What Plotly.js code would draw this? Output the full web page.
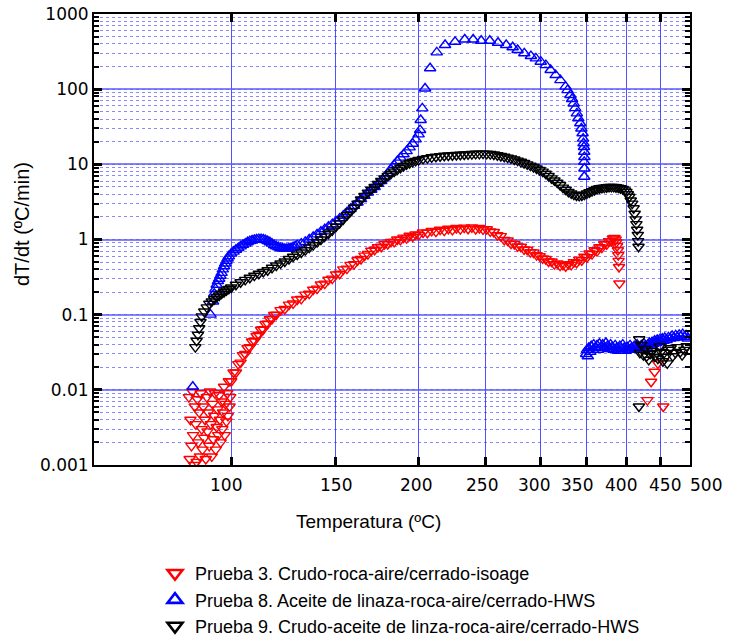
<!DOCTYPE html>
<html>
<head>
<meta charset="utf-8">
<script src="https://cdn.plot.ly/plotly-3.0.1.min.js"></script>
<style>html,body{margin:0;padding:0;background:#fff;}#chart{width:729px;height:636px;}</style>
</head>
<body>
<div id="chart"></div>
<script>
// ---- Prueba 3 (red) ----
const tempP3 = [83,83.3,83.6,84,84.3,84.6,85,85.3,85.6,86,86.3,86.6,87,87.3,87.6,88,88.3,88.6,89,89.3,89.6,90,90.3,90.6,91,91.3,91.6,92,92.3,92.6,93,93.3,93.6,94,94.3,94.6,95,95.3,95.6,96,96.3,96.6,97,97.3,97.6,98,98.3,98.6,99,99.3,99.6,
100,101,102,103,104,105,106,107,108,109,110,111,112,113,114,115,116,117,118,119,120,122,124,126,128,130,132,134,136,138,140,142,144,146,148,150,152,154,156,158,160,162,164,166,168,170,172,174,176,178,180,182,184,186,188,190,192,194,196,198,200,203,206,209,212,215,218,221,224,227,230,233,236,239,242,245,248,251,254,257,260,263,266,269,272,275,278,281,284,287,290,293,296,299,302,305,308,311,314,317,320,323,326,329,332,335,338,341,344,347,350,353,356,359,362,365,368,371,374,377,380,382,384,385.5,386.5,387.5,388.5,389,389.5,390,390.5,
430,435.6,441,446,454.5];
const valP3 = [0.008,0.0012,0.004,0.0018,0.0095,0.0025,0.001,0.006,0.0035,0.0011,0.0075,0.002,0.005,0.0013,0.009,0.003,0.0016,0.006,0.0023,0.004,0.0012,0.008,0.0028,0.005,0.0018,0.0095,0.0035,0.0013,0.0065,0.0022,0.0045,0.009,0.0016,0.0032,0.0055,0.0025,0.0085,0.004,0.002,0.007,0.003,0.005,0.011,0.0025,0.0065,0.0038,0.009,0.0045,0.013,0.006,0.008,
0.013,0.017,0.017,0.022,0.023,0.029,0.03,0.036,0.037,0.044,0.045,0.052,0.054,0.063,0.064,0.075,0.076,0.087,0.088,0.099,0.1,0.115,0.119,0.136,0.141,0.159,0.162,0.185,0.19,0.215,0.222,0.252,0.259,0.292,0.302,0.343,0.35,0.4,0.41,0.46,0.47,0.53,0.55,0.61,0.64,0.71,0.73,0.79,0.8,0.87,0.87,0.93,0.93,1.0,0.99,1.06,1.04,1.12,1.09,1.17,1.15,1.24,1.23,1.3,1.27,1.35,1.31,1.39,1.34,1.42,1.37,1.44,1.39,1.45,1.38,1.42,1.36,1.37,1.28,1.26,1.14,1.11,0.99,0.97,0.88,0.87,0.81,0.8,0.74,0.73,0.68,0.67,0.62,0.6,0.56,0.55,0.51,0.51,0.47,0.48,0.45,0.46,0.44,0.47,0.46,0.5,0.49,0.54,0.53,0.59,0.58,0.65,0.64,0.72,0.7,0.79,0.78,0.87,0.86,0.95,0.95,1.03,1.05,1.0,0.92,0.82,0.72,0.62,0.52,0.43,0.26,
0.0073,0.0128,0.0174,0.0225,0.006];

// ---- Prueba 8 (blue) ----
const tempP8 = [84.5,91.5,92.5,93,93.5,94,94.5,95,95.5,96,96.5,97,97.5,98,98.5,99,100,101,102,103,104,105,106,107,108,109,110,111,112,113,114,115,116,117,118,119,120,121,122,123,124,125,126,127,128,129,130,132,134,136,138,140,142,144,146,148,150,152,154,156,158,160,162,164,166,168,170,172,174,176,178,180,182,184,186,188,190,192,194,196,198,200,201,
201.4,202.5,204.4,207.9,212.6,218.6,226,233.4,240,246.5,253.6,260.6,267.7,273.5,278,284.2,290.5,295.3,300.1,305.2,310.1,315.3,320.3,325.8,328,331.2,333,334.8,336.5,338.4,340,342.2,343.5,344.9,345.5,346,346.5,346.8,347,346.8,347,346.8,
349,350,351,352,354,355,357,358,360,362,363,365,367,369,371,373,375,377,379,381,383,385,387,389,391,393,395,397,399,401,403,405,407,409,411,413,415,417,419,421,423,425,427,429,431,433,435,437,439,441,443,445,447,449,451,453,455,457,460,463,466,469,472,475,478,481,484,487,490,493,496];
const valP8 = [0.011,0.1,0.15,0.19,0.22,0.25,0.28,0.3,0.33,0.36,0.4,0.44,0.48,0.52,0.56,0.6,0.65,0.69,0.73,0.77,0.81,0.85,0.88,0.92,0.95,0.97,0.99,1.0,1.01,1.01,1.0,0.98,0.95,0.92,0.88,0.84,0.81,0.79,0.77,0.76,0.75,0.75,0.76,0.77,0.79,0.81,0.84,0.88,0.93,1.0,1.08,1.17,1.27,1.37,1.48,1.6,1.74,1.9,2.07,2.3,2.55,2.8,3.1,3.45,3.8,4.2,4.6,5.0,5.5,6.0,6.7,7.6,8.6,9.8,11,12.3,13.6,15,16.8,18.8,21.5,25,28.6,
38.9,55.6,102,190,309,387,427,458,458,441,441,415,387,361,332,300,276,257,232,209,180,154,132,108,97,83.6,74,64.6,56,47.7,41,35.2,30,25.9,22,19.1,17,14.7,12.5,10.8,8.8,6.84,
0.03,0.034,0.028,0.036,0.032,0.038,0.034,0.04,0.036,0.039,0.034,0.041,0.037,0.04,0.036,0.042,0.038,0.035,0.04,0.037,0.034,0.039,0.036,0.033,0.038,0.035,0.04,0.036,0.033,0.037,0.034,0.039,0.036,0.034,0.038,0.035,0.04,0.037,0.035,0.039,0.036,0.041,0.038,0.036,0.04,0.042,0.039,0.043,0.041,0.045,0.042,0.046,0.043,0.047,0.044,0.048,0.045,0.049,0.046,0.05,0.048,0.052,0.049,0.053,0.05,0.054,0.051,0.055,0.05,0.053,0.048];

// ---- Prueba 9 (black) ----
const tempP9 = [85.5,86,86.5,87,87.5,88,89,90,91,92,93,94,95,96,97,98,99,100,102,104,106,108,110,112,114,116,118,120,122,124,126,128,130,132,134,136,138,140,142,144,146,148,150,152,154,156,158,160,162,164,166,168,170,172,174,176,178,180,182,184,186,188,190,192,194,196,198,200,203,206,209,212,215,218,221,224,227,230,233,236,239,242,245,248,251,254,257,260,263,266,269,272,275,278,281,284,287,290,293,296,299,302,305,308,311,314,317,320,323,326,329,332,335,338,341,344,347,350,353,356,359,362,365,368,371,374,377,380,383,386,389,392,395,398,400,402,404,406,408,410,411.5,413,414,415,416,416.5,417,
417.6,418,419,421,424,427,429,432,434,437,441,444,446,449,451,454,456,458.5,461,463,466.5,470,474.5,478,483,486,490,494];
const valP9 = [0.037,0.045,0.054,0.066,0.08,0.095,0.11,0.125,0.14,0.15,0.16,0.172,0.18,0.19,0.2,0.21,0.22,0.23,0.25,0.27,0.29,0.31,0.33,0.35,0.37,0.39,0.42,0.45,0.48,0.51,0.55,0.59,0.63,0.67,0.72,0.78,0.84,0.92,1.0,1.1,1.2,1.32,1.48,1.65,1.85,2.1,2.35,2.65,3.0,3.4,3.8,4.2,4.6,5.0,5.5,6.0,6.5,7.0,7.5,8.0,8.5,9.0,9.5,10.0,10.4,10.8,11.1,11.4,11.8,12.1,12.4,12.6,12.8,13.0,13.1,13.2,13.3,13.4,13.5,13.6,13.7,13.8,13.8,13.9,13.8,13.7,13.5,13.2,12.9,12.6,12.3,12.0,11.6,11.2,10.8,10.4,10.0,9.6,9.2,8.8,8.4,8.0,7.5,7.0,6.5,6.1,5.7,5.3,4.9,4.6,4.3,4.1,3.95,3.85,3.8,3.85,3.95,4.1,4.25,4.4,4.55,4.7,4.8,4.85,4.9,4.95,5.0,5.0,5.0,4.95,4.9,4.8,4.7,4.5,4.3,4.0,3.7,3.3,3.0,2.6,2.2,1.85,1.6,1.35,1.15,0.95,0.8,
0.006,0.047,0.031,0.04,0.029,0.035,0.028,0.025,0.03,0.033,0.0276,0.031,0.026,0.038,0.032,0.024,0.031,0.0276,0.0225,0.034,0.0357,0.028,0.031,0.037,0.032,0.029,0.034,0.038];

const seriesNames = [
  'Prueba 3. Crudo-roca-aire/cerrado-isoage',
  'Prueba 8. Aceite de linaza-roca-aire/cerrado-HWS',
  'Prueba 9. Crudo-aceite de linza-roca-aire/cerrado-HWS'
];
const xTickTemps = [100,150,200,250,300,350,400,450,500];
const xRangeTemps = [50,500];
const yTickVals = [0.001,0.01,0.1,1,10,100,1000];
const yTickText = ['0.001','0.01','0.1','1','10','100','1000'];

// label placement (pixels, layout only): where the original draws each x label relative to its tick
const xLabelShiftPx = [-5,0,-3,-3,-7,-10,-5,5,16];

// reciprocal-temperature axis (labelled in ºC)
const toAxis = t => -1000/(t+273.15);

const colors = ['#ff0000','#0000ff','#000000'];
const symbols = ['triangle-down-open','triangle-up-open','triangle-down-open'];
const temps = [tempP3,tempP8,tempP9];
const vals = [valP3,valP8,valP9];

const traces = [];
for (let i=0;i<3;i++){
  traces.push({
    x: temps[i].map(toAxis), y: vals[i], type:'scatter', mode:'markers',
    showlegend:false, hoverinfo:'skip',
    marker:{symbol:symbols[i], size:10, color:colors[i], line:{width:1.4, color:colors[i]}}
  });
}
for (let i=0;i<3;i++){
  traces.push({
    x:[null], y:[null], type:'scatter', mode:'markers', name:seriesNames[i], showlegend:true,
    marker:{symbol:symbols[i], size:13, color:colors[i], line:{width:2.6, color:colors[i]}}
  });
}

const annotations = xTickTemps.map((t,i)=>({
  text:String(t), xref:'x', yref:'paper', x:toAxis(t), y:0, yshift:-20, xshift:xLabelShiftPx[i],
  xanchor:'center', yanchor:'middle', showarrow:false,
  font:{family:'DejaVu Sans, Verdana, sans-serif', size:17, color:'#000'}
}));
annotations.push(
  {text:'Temperatura (ºC)', xref:'paper', yref:'paper', x:(368-94)/596, y:(465-521)/451,
   xanchor:'center', yanchor:'middle', showarrow:false,
   font:{family:'Liberation Sans, Arial, sans-serif', size:19, color:'#000'}},
  {text:'dT/dt (ºC/min)', xref:'paper', yref:'paper', x:(22-94)/596, y:(465-224)/451,
   xanchor:'center', yanchor:'middle', showarrow:false, textangle:-90,
   font:{family:'Liberation Sans, Arial, sans-serif', size:20, color:'#000'}}
);

const layout = {
  width:729, height:636,
  margin:{l:94, r:39, t:14, b:171, pad:0, autoexpand:false},
  paper_bgcolor:'#ffffff', plot_bgcolor:'#ffffff',
  showlegend:true,
  legend:{xref:'container', yref:'container', x:155/729, y:1-555/636, xanchor:'left', yanchor:'top',
    bgcolor:'rgba(0,0,0,0)',
    font:{family:'Liberation Sans, Arial, sans-serif', size:18, color:'#000'}, tracegroupgap:0},
  xaxis:{
    range:[toAxis(xRangeTemps[0]), toAxis(xRangeTemps[1])],
    tickmode:'array', tickvals:xTickTemps.map(toAxis), ticktext:xTickTemps.map(String),
    showticklabels:false,
    ticks:'inside', ticklen:8, tickwidth:3, tickcolor:'#000',
    showline:true, linewidth:2, linecolor:'#000', mirror:'ticks',
    showgrid:true, gridcolor:'rgba(50,50,255,0.85)', gridwidth:1, zeroline:false
  },
  yaxis:{
    type:'log', range:[-3,3],
    tickmode:'array', tickvals:yTickVals, ticktext:yTickText,
    ticks:'inside', ticklen:8, tickwidth:3, tickcolor:'#000',
    showline:true, linewidth:2, linecolor:'#000', mirror:'ticks',
    showgrid:true, gridcolor:'rgba(90,90,255,0.75)', gridwidth:2, zeroline:false,
    tickfont:{family:'DejaVu Sans, Verdana, sans-serif', size:17, color:'#000'},
    minor:{dtick:'D1', ticks:'inside', ticklen:5, tickwidth:2, tickcolor:'#000',
      showgrid:true, gridcolor:'rgba(40,40,255,0.55)', griddash:'dot', gridwidth:1}
  },
  annotations:annotations
};

Plotly.newPlot('chart', traces, layout, {displayModeBar:false, staticPlot:true});
</script>
</body>
</html>
